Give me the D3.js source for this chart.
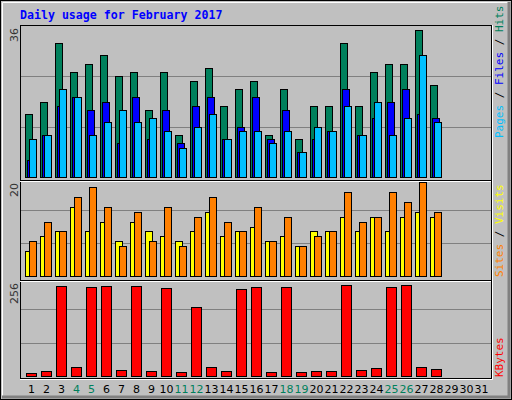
<!DOCTYPE html>
<html><head><meta charset="utf-8">
<script src="https://cdn.jsdelivr.net/npm/d3@7"></script>
<style>body{margin:0;background:#fff}</style>
</head><body>
<div id="chart"></div>
<script>
// day numbers shown on the axis, 1..31
const days = [1,2,3,4,5,6,7,8,9,10,11,12,13,14,15,16,17,18,19,20,21,22,23,24,25,26,27,28,29,30,31];
const weekend = [4,5,11,12,18,19,25,26];

// values per day for February (28 days)
const hits   = [15,18,32,25,27,29,24,25,16,25,10,23,26,17,21,23,10,21,9,17,17,32,17,25,27,27,35,22];
const files  = [4,10,17,19,16,18,8,19,9,16,8,17,19,9,12,19,9,16,6,9,11,21,10,14,18,21,15,14];
const pages  = [9,10,21,19,10,13,16,13,14,11,7,12,15,9,11,11,8,11,6,12,11,17,10,18,10,14,29,13];
const visits = [5,8,9,14,9,11,7,11,9,8,7,9,13,8,9,10,7,8,6,9,9,12,9,12,9,12,13,12];
const sites  = [7,11,9,16,18,14,6,13,7,14,6,12,16,11,9,14,7,12,6,8,9,17,11,12,17,15,19,13];
const kbytes = [8,14,231,24,229,231,16,231,14,226,11,177,24,14,224,229,11,229,11,14,14,234,16,21,229,234,24,19];

const maxHits = 36, maxVisits = 20, maxKB = 256;

const W = 512, H = 400;
const svg = d3.select("#chart").append("svg").attr("width", W).attr("height", H);
const mono = "DejaVu Sans Mono";

// frame
svg.append("rect").attr("width", W).attr("height", H).attr("fill", "#c0c0c0");
svg.append("rect").attr("x", 0.5).attr("y", 0.5).attr("width", W - 1).attr("height", H - 1)
  .attr("fill", "none").attr("stroke", "#000");
svg.append("path").attr("d", `M2.5,${H-3}V2.5H${W-4}`).attr("stroke", "#fff").attr("fill", "none");
svg.append("path").attr("d", `M${W-3},2V${H-3}H2`).attr("stroke", "#808080").attr("stroke-width", 3).attr("fill", "none");

svg.append("text").attr("x", 20).attr("y", 19).text("Daily usage for February 2017")
  .attr("font-family", mono).attr("font-weight", "bold").attr("font-size", "11.6px").attr("fill", "#0000ff");

const x = d3.scaleLinear().domain([1, 31]).range([25, 25 + 30 * 15]);
const L = 20, R = 491;

const panels = [
  {top: 25, bottom: 180, base: 177, topv: 26, max: maxHits},
  {top: 180, bottom: 280, base: 276, topv: 177, max: maxVisits},
  {top: 280, bottom: 378, base: 376, topv: 276, max: maxKB}
];
const ys = panels.map(p => d3.scaleLinear().domain([0, p.max]).range([p.base, p.topv]));

panels.forEach((p, i) => {
  // grid at 1/3 and 2/3
  [p.max / 3, 2 * p.max / 3].forEach(v => {
    const yy = Math.round(ys[i](v)) + 0.5;
    svg.append("line").attr("x1", L).attr("x2", R).attr("y1", yy).attr("y2", yy)
      .attr("stroke", "#808080");
  });
  svg.append("text").attr("transform", `translate(18,${p.top + 3}) rotate(-90)`)
    .attr("text-anchor", "end").attr("font-family", "DejaVu Sans").attr("font-size", "11px")
    .attr("fill", "#333").text(p.max);
});

function bars(vals, yScale, off, w, color) {
  svg.append("g").selectAll("rect").data(vals).enter().append("rect")
    .attr("x", (d, i) => x(i + 1) + off + 0.5)
    .attr("y", d => Math.round(yScale(d)) + 0.5)
    .attr("width", w)
    .attr("height", d => yScale(0) - Math.round(yScale(d)))
    .attr("fill", color).attr("stroke", "#000");
}

bars(hits, ys[0], 0, 7, "#00805c");
bars(files, ys[0], 2, 7, "#0000ff");
bars(pages, ys[0], 4, 7, "#00c0ff");
bars(visits, ys[1], 0, 7, "#ffff00");
bars(sites, ys[1], 4, 7, "#ff8000");
bars(kbytes, ys[2], 1, 10, "#ff0000");

// panel borders
panels.forEach(p => {
  svg.append("rect").attr("x", L + 0.5).attr("y", p.top + 0.5).attr("width", R - L).attr("height", p.bottom - p.top)
    .attr("fill", "none").attr("stroke", "#000");
});
svg.append("path").attr("d", `M${R+1.5},25V${379.5}H${L}`).attr("stroke", "#fff").attr("fill", "none");
[180, 280].forEach(yy => svg.append("line").attr("x1", L).attr("x2", R).attr("y1", yy + 1.5).attr("y2", yy + 1.5).attr("stroke", "#fff"));

// day labels
const ax = svg.append("g").attr("transform", "translate(6,382)")
  .call(d3.axisBottom(x).tickValues(days).tickSize(0).tickFormat(d3.format("d")));
ax.select(".domain").remove();
ax.selectAll("text").attr("font-family", "DejaVu Sans").attr("font-size", "11px")
  .attr("fill", d => weekend.includes(d) ? "#00805c" : "#000");

// right side vertical legends
function vlabel(yBottom, parts) {
  const t = svg.append("text").attr("transform", `translate(503,${yBottom}) rotate(-90)`)
    .attr("font-family", mono).attr("font-size", "11px");
  parts.forEach(([s, c]) => t.append("tspan").text(s).attr("fill", c));
}
vlabel(138, [["Pages", "#00c0ff"], [" / ", "#000"], ["Files", "#0000ff"], [" / ", "#000"], ["Hits", "#00805c"]]);
vlabel(277, [["Sites", "#ff8000"], [" / ", "#000"], ["Visits", "#ffff00"]]);
vlabel(377, [["KBytes", "#ff0000"]]);
</script>
</body></html>
